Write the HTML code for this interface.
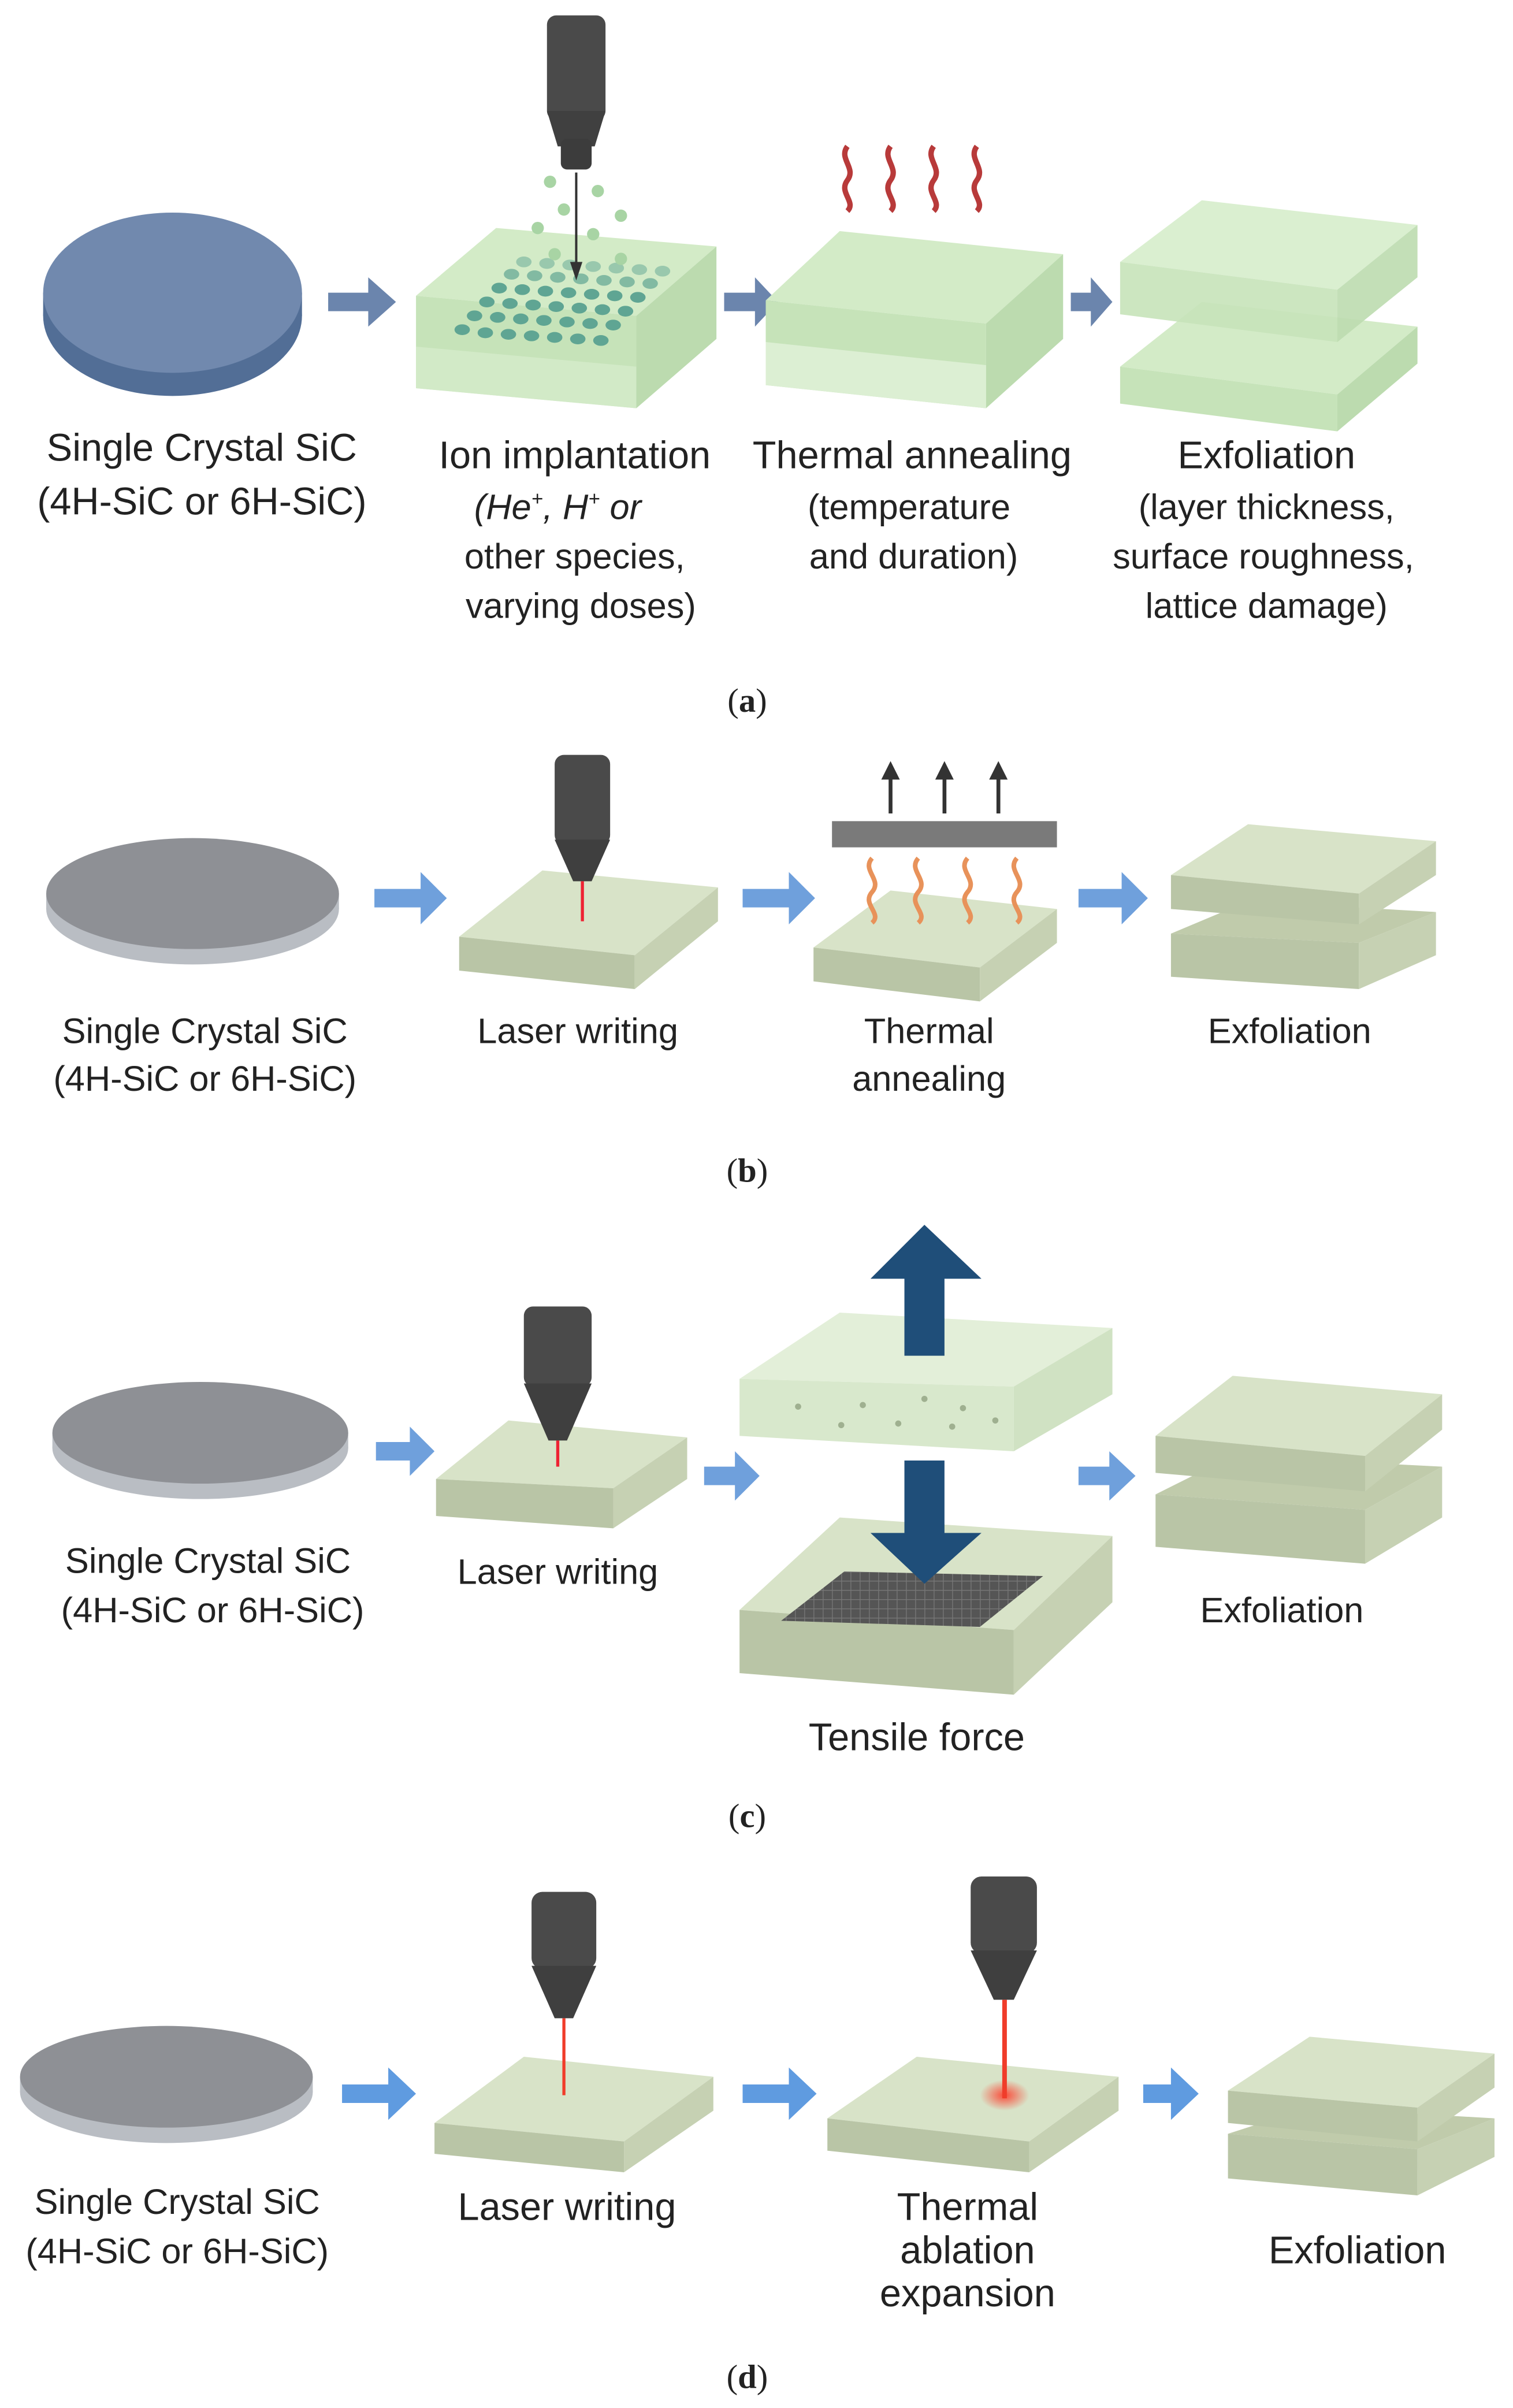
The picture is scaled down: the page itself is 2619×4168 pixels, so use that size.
<!DOCTYPE html>
<html><head><meta charset="utf-8"><style>
html,body{margin:0;padding:0;background:#fff}
svg{display:block}
text{font-family:"Liberation Sans",sans-serif;fill:#222;text-anchor:middle}
.l{font-size:25px}
.s{font-size:23px}
.cap{font-family:"Liberation Serif",serif;font-size:22px}
</style></head><body>
<svg width="2619" height="4168" viewBox="0 0 982 1563" preserveAspectRatio="none" xmlns="http://www.w3.org/2000/svg">
<defs>
<radialGradient id="glow"><stop offset="0" stop-color="#ff3b2a" stop-opacity="0.9"/><stop offset="1" stop-color="#ff3b2a" stop-opacity="0"/></radialGradient>
<pattern id="mesh" width="6" height="6" patternUnits="userSpaceOnUse"><rect width="6" height="6" fill="#555"/><path d="M0 0H6M0 0V6" stroke="#777" stroke-width="1"/></pattern>
</defs>

<!-- ===== (a) ===== -->
<ellipse cx="112" cy="205" rx="84" ry="52" fill="#526e96"/>
<rect x="28" y="190" width="168" height="15" fill="#526e96"/>
<ellipse cx="112" cy="190" rx="84" ry="52" fill="#7189ae"/>
<path d="M213 190h26v-10l18 16-18 16v-10h-26z" fill="#6b85ad"/>

<polygon points="270,192 322,148 465,160 413,205" fill="#d3ebc7"/>
<polygon points="270,192 413,205 413,265 270,252" fill="#c6e3b9"/>
<polygon points="413,205 465,160 465,220 413,265" fill="#bcdbaf"/>
<polygon points="270,225 413,238 413,265 270,252" fill="#d7edcd" opacity="0.7"/>
<g fill="#5fa593">
<ellipse cx="300" cy="214" rx="5" ry="3.5"/><ellipse cx="315" cy="216" rx="5" ry="3.5"/><ellipse cx="330" cy="217" rx="5" ry="3.5"/><ellipse cx="345" cy="218" rx="5" ry="3.5"/><ellipse cx="360" cy="219" rx="5" ry="3.5"/><ellipse cx="375" cy="220" rx="5" ry="3.5"/><ellipse cx="390" cy="221" rx="5" ry="3.5"/>
<ellipse cx="308" cy="205" rx="5" ry="3.5"/><ellipse cx="323" cy="206" rx="5" ry="3.5"/><ellipse cx="338" cy="207" rx="5" ry="3.5"/><ellipse cx="353" cy="208" rx="5" ry="3.5"/><ellipse cx="368" cy="209" rx="5" ry="3.5"/><ellipse cx="383" cy="210" rx="5" ry="3.5"/><ellipse cx="398" cy="211" rx="5" ry="3.5"/>
<ellipse cx="316" cy="196" rx="5" ry="3.5"/><ellipse cx="331" cy="197" rx="5" ry="3.5"/><ellipse cx="346" cy="198" rx="5" ry="3.5"/><ellipse cx="361" cy="199" rx="5" ry="3.5"/><ellipse cx="376" cy="200" rx="5" ry="3.5"/><ellipse cx="391" cy="201" rx="5" ry="3.5"/><ellipse cx="406" cy="202" rx="5" ry="3.5"/>
<ellipse cx="324" cy="187" rx="5" ry="3.5"/><ellipse cx="339" cy="188" rx="5" ry="3.5"/><ellipse cx="354" cy="189" rx="5" ry="3.5"/><ellipse cx="369" cy="190" rx="5" ry="3.5"/><ellipse cx="384" cy="191" rx="5" ry="3.5"/><ellipse cx="399" cy="192" rx="5" ry="3.5"/><ellipse cx="414" cy="193" rx="5" ry="3.5"/>
<ellipse cx="332" cy="178" rx="5" ry="3.5" opacity=".7"/><ellipse cx="347" cy="179" rx="5" ry="3.5" opacity=".7"/><ellipse cx="362" cy="180" rx="5" ry="3.5" opacity=".7"/><ellipse cx="377" cy="181" rx="5" ry="3.5" opacity=".7"/><ellipse cx="392" cy="182" rx="5" ry="3.5" opacity=".7"/><ellipse cx="407" cy="183" rx="5" ry="3.5" opacity=".7"/><ellipse cx="422" cy="184" rx="5" ry="3.5" opacity=".7"/>
<ellipse cx="340" cy="170" rx="5" ry="3.5" opacity=".5"/><ellipse cx="355" cy="171" rx="5" ry="3.5" opacity=".5"/><ellipse cx="370" cy="172" rx="5" ry="3.5" opacity=".5"/><ellipse cx="385" cy="173" rx="5" ry="3.5" opacity=".5"/><ellipse cx="400" cy="174" rx="5" ry="3.5" opacity=".5"/><ellipse cx="415" cy="175" rx="5" ry="3.5" opacity=".5"/><ellipse cx="430" cy="176" rx="5" ry="3.5" opacity=".5"/>
</g>
<g fill="#a8d4a4"><circle cx="357" cy="118" r="4"/><circle cx="388" cy="124" r="4"/><circle cx="366" cy="136" r="4"/><circle cx="403" cy="140" r="4"/><circle cx="349" cy="148" r="4"/><circle cx="385" cy="152" r="4"/><circle cx="360" cy="165" r="4"/><circle cx="403" cy="168" r="4"/></g>
<rect x="355" y="10" width="38" height="68" rx="6" fill="#4a4a4a"/>
<polygon points="355,72 393,72 386,95 362,95" fill="#404040"/>
<rect x="364" y="90" width="20" height="20" rx="4" fill="#3c3c3c"/>
<line x1="374" y1="112" x2="374" y2="172" stroke="#333" stroke-width="1.5"/>
<polygon points="370,170 378,170 374,182" fill="#333"/>

<path d="M470 190h20v-10l15 16-15 16v-10h-20z" fill="#6b85ad"/>
<polygon points="497,195 545,150 690,165 640,210" fill="#d3ebc7"/>
<polygon points="497,195 640,210 640,265 497,250" fill="#c6e3b9"/>
<polygon points="640,210 690,165 690,220 640,265" fill="#bcdbaf"/>
<polygon points="497,222 640,237 640,265 497,250" fill="#dcefd3"/>
<g fill="none" stroke="#b83a3a" stroke-width="3.5">
<path d="M550 95c-6 8 6 14 0 22s6 14 0 20"/><path d="M578 95c-6 8 6 14 0 22s6 14 0 20"/><path d="M606 95c-6 8 6 14 0 22s6 14 0 20"/><path d="M634 95c-6 8 6 14 0 22s6 14 0 20"/>
</g>
<path d="M695 190h13v-10l14 16-14 16v-10h-13z" fill="#6b85ad"/>
<polygon points="727,238 780,196 920,212 868,256" fill="#d3ebc7"/>
<polygon points="727,238 868,256 868,280 727,262" fill="#c6e3b9"/>
<polygon points="868,256 920,212 920,236 868,280" fill="#bcdbaf"/>
<polygon points="727,170 780,130 920,146 868,188" fill="#d6edcb" opacity="0.9"/>
<polygon points="727,170 868,188 868,222 727,204" fill="#c6e3b9" opacity="0.9"/>
<polygon points="868,188 920,146 920,180 868,222" fill="#bcdbaf" opacity="0.9"/>

<text class="l" x="131" y="299">Single Crystal SiC</text>
<text class="l" x="131" y="334">(4H-SiC or 6H-SiC)</text>
<text class="l" x="373" y="304">Ion implantation</text>
<text class="s" x="362" y="337" font-style="italic">(He<tspan font-size="13" dy="-9">+</tspan><tspan dy="9">, H</tspan><tspan font-size="13" dy="-9">+</tspan><tspan dy="9"> or</tspan></text>
<text class="s" x="373" y="369">other species,</text>
<text class="s" x="377" y="401">varying doses)</text>
<text class="l" x="592" y="304">Thermal annealing</text>
<text class="s" x="590" y="337">(temperature</text>
<text class="s" x="593" y="369">and duration)</text>
<text class="l" x="822" y="304">Exfoliation</text>
<text class="s" x="822" y="337">(layer thickness,</text>
<text class="s" x="820" y="369">surface roughness,</text>
<text class="s" x="822" y="401">lattice damage)</text>
<text class="cap" x="485" y="462">(<tspan font-weight="bold">a</tspan>)</text>

<!-- ===== (b) ===== -->
<ellipse cx="125" cy="590" rx="95" ry="36" fill="#b9bdc3"/>
<rect x="30" y="580" width="190" height="10" fill="#b9bdc3"/>
<ellipse cx="125" cy="580" rx="95" ry="36" fill="#8e9095"/>
<path d="M243 577h30v-11l17 17-17 17v-11h-30z" fill="#6fa0dc"/>
<polygon points="298,608 352,565 466,576 412,620" fill="#d8e3c8"/>
<polygon points="298,608 412,620 412,642 298,630" fill="#b9c5a6"/>
<polygon points="412,620 466,576 466,598 412,642" fill="#c6d1b3"/>
<rect x="360" y="490" width="36" height="58" rx="6" fill="#4a4a4a"/>
<polygon points="360,545 396,545 384,572 372,572" fill="#3f3f3f"/>
<line x1="378" y1="572" x2="378" y2="598" stroke="#e23" stroke-width="2"/>
<path d="M482 577h30v-11l17 17-17 17v-11h-30z" fill="#6fa0dc"/>
<polygon points="528,615 578,578 686,590 636,628" fill="#d8e3c8"/>
<polygon points="528,615 636,628 636,650 528,637" fill="#b9c5a6"/>
<polygon points="636,628 686,590 686,612 636,650" fill="#c6d1b3"/>
<rect x="540" y="533" width="146" height="17" fill="#7a7a7a"/>
<g stroke="#333" stroke-width="2.5" fill="#333">
<line x1="578" y1="528" x2="578" y2="505"/><polygon points="572,506 584,506 578,494" stroke="none"/>
<line x1="613" y1="528" x2="613" y2="505"/><polygon points="607,506 619,506 613,494" stroke="none"/>
<line x1="648" y1="528" x2="648" y2="505"/><polygon points="642,506 654,506 648,494" stroke="none"/>
</g>
<g fill="none" stroke="#e8925a" stroke-width="3">
<path d="M566 557c-7 8 7 14 0 22s7 14 0 20"/><path d="M596 557c-7 8 7 14 0 22s7 14 0 20"/><path d="M628 557c-7 8 7 14 0 22s7 14 0 20"/><path d="M660 557c-7 8 7 14 0 22s7 14 0 20"/>
</g>
<path d="M700 577h28v-11l17 17-17 17v-11h-28z" fill="#6fa0dc"/>
<polygon points="760,606 810,585 932,592 882,612" fill="#c0cbab"/>
<polygon points="760,606 882,612 882,642 760,634" fill="#b9c5a6"/>
<polygon points="882,612 932,592 932,620 882,642" fill="#c6d1b3"/>
<polygon points="760,568 810,535 932,546 882,580" fill="#d8e3c8"/>
<polygon points="760,568 882,580 882,600 760,590" fill="#b9c5a6"/>
<polygon points="882,580 932,546 932,568 882,600" fill="#c6d1b3"/>
<text class="s" x="133" y="677">Single Crystal SiC</text>
<text class="s" x="133" y="708">(4H-SiC or 6H-SiC)</text>
<text class="s" x="375" y="677">Laser writing</text>
<text class="s" x="603" y="677">Thermal</text>
<text class="s" x="603" y="708">annealing</text>
<text class="s" x="837" y="677">Exfoliation</text>
<text class="cap" x="485" y="767">(<tspan font-weight="bold">b</tspan>)</text>

<!-- ===== (c) ===== -->
<ellipse cx="130" cy="940" rx="96" ry="33" fill="#b9bdc3"/>
<rect x="34" y="930" width="192" height="10" fill="#b9bdc3"/>
<ellipse cx="130" cy="930" rx="96" ry="33" fill="#8e9095"/>
<path d="M244 936h22v-10l16 16-16 16v-10h-22z" fill="#6fa0dc"/>
<polygon points="283,960 330,922 446,933 398,966" fill="#d8e3c8"/>
<polygon points="283,960 398,966 398,992 283,984" fill="#b9c5a6"/>
<polygon points="398,966 446,933 446,960 398,992" fill="#c6d1b3"/>
<rect x="340" y="848" width="44" height="52" rx="6" fill="#4a4a4a"/>
<polygon points="340,898 384,898 368,935 356,935" fill="#3f3f3f"/>
<line x1="362" y1="935" x2="362" y2="952" stroke="#e23" stroke-width="2"/>
<path d="M457 952h20v-10l16 16-16 16v-10h-20z" fill="#6fa0dc"/>
<polygon points="480,895 545,852 722,862 658,900" fill="#e3efd9"/>
<polygon points="480,895 658,900 658,942 480,932" fill="#d8e8cc"/>
<polygon points="658,900 722,862 722,905 658,942" fill="#d0e2c3"/>
<g fill="#9fb090"><circle cx="518" cy="913" r="2"/><circle cx="546" cy="925" r="2"/><circle cx="560" cy="912" r="2"/><circle cx="583" cy="924" r="2"/><circle cx="600" cy="908" r="2"/><circle cx="618" cy="926" r="2"/><circle cx="646" cy="922" r="2"/><circle cx="625" cy="914" r="2"/></g>
<polygon points="600,795 637,830 613,830 613,880 587,880 587,830 565,830" fill="#1f4e79"/>
<polygon points="480,1045 545,985 722,997 658,1058" fill="#d8e3c8"/>
<polygon points="480,1045 658,1058 658,1100 480,1086" fill="#b9c5a6"/>
<polygon points="658,1058 722,997 722,1040 658,1100" fill="#c6d1b3"/>
<polygon points="507,1052 548,1020 677,1023 636,1056" fill="url(#mesh)"/>
<polygon points="587,948 613,948 613,995 637,995 600,1028 565,995 587,995" fill="#1f4e79"/>
<path d="M700 952h20v-10l17 16-17 16v-10h-20z" fill="#6fa0dc"/>
<polygon points="750,970 800,945 936,952 886,980" fill="#c0cbab"/>
<polygon points="750,970 886,980 886,1015 750,1004" fill="#b9c5a6"/>
<polygon points="886,980 936,952 936,985 886,1015" fill="#c6d1b3"/>
<polygon points="750,932 800,893 936,905 886,945" fill="#d8e3c8"/>
<polygon points="750,932 886,945 886,968 750,956" fill="#b9c5a6"/>
<polygon points="886,945 936,905 936,928 886,968" fill="#c6d1b3"/>
<text class="s" x="135" y="1021">Single Crystal SiC</text>
<text class="s" x="138" y="1053">(4H-SiC or 6H-SiC)</text>
<text class="s" x="362" y="1028">Laser writing</text>
<text class="s" x="832" y="1053">Exfoliation</text>
<text class="l" x="595" y="1136">Tensile force</text>
<text class="cap" x="485" y="1186">(<tspan font-weight="bold">c</tspan>)</text>

<!-- ===== (d) ===== -->
<ellipse cx="108" cy="1358" rx="95" ry="33" fill="#b9bdc3"/>
<rect x="13" y="1348" width="190" height="10" fill="#b9bdc3"/>
<ellipse cx="108" cy="1348" rx="95" ry="33" fill="#8e9095"/>
<path d="M222 1353h30v-11l18 17-18 17v-11h-30z" fill="#5f9be0"/>
<polygon points="282,1378 340,1335 463,1348 405,1390" fill="#d8e3c8"/>
<polygon points="282,1378 405,1390 405,1410 282,1398" fill="#b9c5a6"/>
<polygon points="405,1390 463,1348 463,1370 405,1410" fill="#c6d1b3"/>
<rect x="345" y="1228" width="42" height="50" rx="7" fill="#4a4a4a"/>
<polygon points="345,1276 387,1276 372,1310 360,1310" fill="#3f3f3f"/>
<line x1="366" y1="1310" x2="366" y2="1360" stroke="#f03c2a" stroke-width="2"/>
<path d="M482 1353h30v-11l18 17-18 17v-11h-30z" fill="#5f9be0"/>
<polygon points="537,1375 595,1335 726,1348 668,1390" fill="#d8e3c8"/>
<polygon points="537,1375 668,1390 668,1410 537,1396" fill="#b9c5a6"/>
<polygon points="668,1390 726,1348 726,1370 668,1410" fill="#c6d1b3"/>
<ellipse cx="652" cy="1360" rx="16" ry="10" fill="url(#glow)"/>
<rect x="630" y="1218" width="43" height="50" rx="7" fill="#4a4a4a"/>
<polygon points="630,1266 673,1266 658,1298 645,1298" fill="#3f3f3f"/>
<line x1="652" y1="1298" x2="652" y2="1362" stroke="#f03c2a" stroke-width="3"/>
<path d="M742 1353h18v-11l18 17-18 17v-11h-18z" fill="#5f9be0"/>
<polygon points="797,1385 850,1368 970,1375 920,1395" fill="#c0cbab"/>
<polygon points="797,1385 920,1395 920,1425 797,1414" fill="#b9c5a6"/>
<polygon points="920,1395 970,1375 970,1400 920,1425" fill="#c6d1b3"/>
<polygon points="797,1357 850,1322 970,1333 920,1368" fill="#d8e3c8"/>
<polygon points="797,1357 920,1368 920,1390 797,1378" fill="#b9c5a6"/>
<polygon points="920,1368 970,1333 970,1355 920,1390" fill="#c6d1b3"/>
<text class="s" x="115" y="1437">Single Crystal SiC</text>
<text class="s" x="115" y="1469">(4H-SiC or 6H-SiC)</text>
<text class="l" x="368" y="1441">Laser writing</text>
<text class="l" x="628" y="1441">Thermal</text>
<text class="l" x="628" y="1469">ablation</text>
<text class="l" x="628" y="1497">expansion</text>
<text class="l" x="881" y="1469">Exfoliation</text>
<text class="cap" x="485" y="1550">(<tspan font-weight="bold">d</tspan>)</text>
</svg>
</body></html>
